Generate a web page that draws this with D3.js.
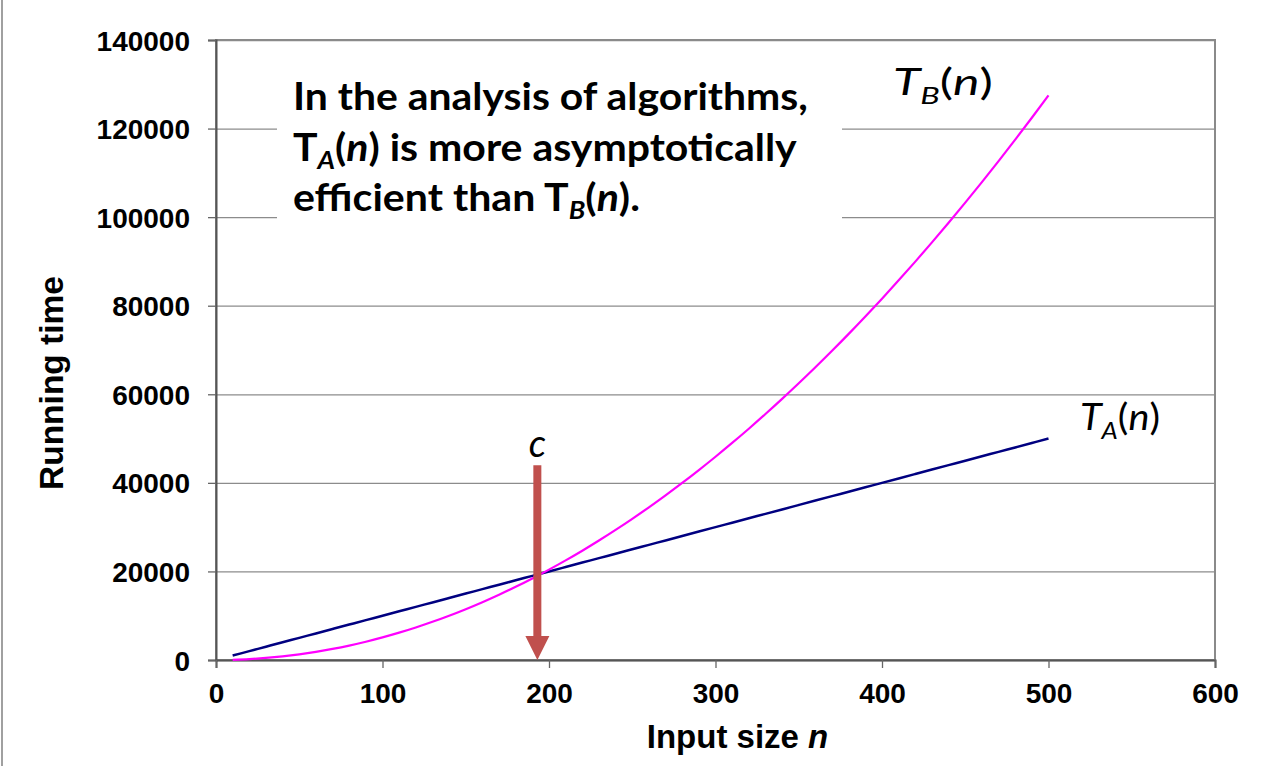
<!DOCTYPE html>
<html><head><meta charset="utf-8">
<script src="https://cdn.jsdelivr.net/npm/d3@7"></script>
<style>
html,body{margin:0;padding:0;background:#fff;}
svg{display:block;}
</style></head>
<body>
<svg id="chart" width="1264" height="766"></svg>
<script>
// ---- data ----
const nValues = [10,20,30,40,50,60,70,80,90,100,110,120,130,140,150,160,170,180,190,200,
  210,220,230,240,250,260,270,280,290,300,310,320,330,340,350,360,370,380,390,400,
  410,420,430,440,450,460,470,480,490,500];
const tA = [1000,2000,3000,4000,5000,6000,7000,8000,9000,10000,11000,12000,13000,14000,15000,
  16000,17000,18000,19000,20000,21000,22000,23000,24000,25000,26000,27000,28000,29000,30000,
  31000,32000,33000,34000,35000,36000,37000,38000,39000,40000,41000,42000,43000,44000,45000,
  46000,47000,48000,49000,50000];
const tB = [50,200,460,820,1280,1840,2500,3260,4130,5100,6170,7340,8620,10000,11480,
  13060,14740,16520,18410,20400,22490,24680,26980,29380,31880,34480,37180,39980,42890,45900,
  49010,52220,55540,58960,62480,66100,69820,73640,77570,81600,85730,89960,94300,98740,103280,
  107920,112660,117500,122450,127500];
const xTicks = [0,100,200,300,400,500,600];
const yTicks = [0,20000,40000,60000,80000,100000,120000,140000];
const crossN = 193;        // point "c"
const arrowTopValue = 44000;

// ---- layout ----
const svg = d3.select("#chart");
const L = 216, R = 1215, T = 40, B = 660;
const x = d3.scaleLinear().domain([0,600]).range([L,R]);
const y = d3.scaleLinear().domain([0,140000]).range([B,T]);
const numFont = "'Liberation Sans', Arial, sans-serif";
const txtFont = "Lato, 'Open Sans', sans-serif";

// left page edge line
svg.append("line").attr("x1",2).attr("x2",2).attr("y1",0).attr("y2",766)
  .attr("stroke","#a0a0a0").attr("stroke-width",2);

// gridlines
const grid = svg.append("g").attr("transform",`translate(${L},0)`)
  .call(d3.axisLeft(y).tickValues(yTicks).tickSize(-(R-L)).tickFormat(""));
grid.select(".domain").remove();
grid.selectAll("line").attr("stroke","#8c8c8c").attr("stroke-width",1.3);

// plot border
svg.append("rect").attr("x",L).attr("y",T).attr("width",R-L).attr("height",B-T)
  .attr("fill","none").attr("stroke","#8a8a8a").attr("stroke-width",2);

// text box (white background)
svg.append("rect").attr("x",277).attr("y",62).attr("width",565).attr("height",166)
  .attr("fill","#fff");

// axes
const yAxis = svg.append("g").attr("transform",`translate(${L},0)`)
  .call(d3.axisLeft(y).tickValues(yTicks).tickSize(8).tickPadding(18).tickFormat(d3.format("d")));
const xAxis = svg.append("g").attr("transform",`translate(0,${B})`)
  .call(d3.axisBottom(x).tickValues(xTicks).tickSize(8).tickPadding(15).tickFormat(d3.format("d")));
[yAxis,xAxis].forEach(a=>{
  a.select(".domain").attr("stroke","#555").attr("stroke-width",2);
  a.selectAll(".tick line").attr("stroke","#666").attr("stroke-width",1.3);
  a.selectAll("text").attr("fill","#000").style("font-family",numFont)
    .style("font-weight","bold").style("font-size","28px");
});
yAxis.selectAll("text").attr("dy","0.36em");
xAxis.selectAll("text").attr("dy","0.72em");

// axis titles
svg.append("text").attr("x",(L+R)/2+22).attr("y",748).attr("text-anchor","middle")
  .style("font-family",numFont).style("font-weight","bold").style("font-size","33px")
  .html('Input size <tspan font-style="italic">n</tspan>');
svg.append("text").attr("transform","translate(63,383) rotate(-90)").attr("text-anchor","middle")
  .style("font-family",numFont).style("font-weight","bold").style("font-size","33.5px")
  .text("Running time");

// lines
const ptsA = nValues.map((n,i)=>[n,tA[i]]);
const ptsB = nValues.map((n,i)=>[n,tB[i]]);
const line = d3.line().x(d=>x(d[0])).y(d=>y(d[1])).curve(d3.curveMonotoneX);
svg.append("path").attr("d",line(ptsA)).attr("fill","none").attr("stroke","#000080").attr("stroke-width",2.5);
svg.append("path").attr("d",line(ptsB)).attr("fill","none").attr("stroke","#ff00ff").attr("stroke-width",2.2);

// arrow at c
const ax = x(crossN), aTop = y(arrowTopValue), aBot = y(0);
svg.append("line").attr("x1",ax).attr("x2",ax).attr("y1",aTop).attr("y2",aBot-22)
  .attr("stroke","#c0504d").attr("stroke-width",8);
svg.append("path").attr("d",`M${ax-12},${aBot-24} L${ax+12},${aBot-24} L${ax},${aBot} Z`)
  .attr("fill","#c0504d");
svg.append("text").attr("x",ax).attr("y",aTop-8).attr("text-anchor","middle")
  .style("font-family",txtFont).style("font-style","italic").style("font-size","38px").text("c");

// function labels
function fLabel(xp,yp,sub,w){
  const t = svg.append("text").attr("x",xp).attr("y",yp)
    .style("font-family",txtFont).style("font-size","37px").style("font-style","italic");
  t.append("tspan").text("T");
  t.append("tspan").attr("dy",9).style("font-size","24px").text(sub);
  t.append("tspan").attr("dy",-9).style("font-style","normal").text("(");
  t.append("tspan").text("n");
  t.append("tspan").style("font-style","normal").text(")");
  const bw = t.node().getBBox().width;
  t.attr("transform",`translate(${xp},0) scale(${w/bw},1) translate(${-xp},0)`);
}
fLabel(893,95,"B",100);
fLabel(1080,430,"A",80);

// annotation box text
function boxLine(yp, parts, w){
  const t = svg.append("text").attr("x",293).attr("y",yp)
    .style("font-family",txtFont).style("font-weight","bold").style("font-size","38px").attr("fill","#000");
  parts.forEach(p=>{
    const s = t.append("tspan").text(p.t);
    if(p.it) s.style("font-style","italic");
    if(p.sub){ s.attr("dy",8).style("font-size","25px"); }
    if(p.up){ s.attr("dy",-8); }
  });
  const bw = t.node().getBBox().width;
  t.attr("transform",`translate(293,0) scale(${w/bw},1) translate(-293,0)`);
}
boxLine(110,[{t:"In the analysis of algorithms,"}],515);
boxLine(161,[{t:"T"},{t:"A",it:true,sub:true},{t:"(",up:true},{t:"n",it:true},{t:") is more asymptotically"}],505);
boxLine(211,[{t:"efficient than T"},{t:"B",it:true,sub:true},{t:"(",up:true},{t:"n",it:true},{t:")."}],347);
</script>
</body></html>
